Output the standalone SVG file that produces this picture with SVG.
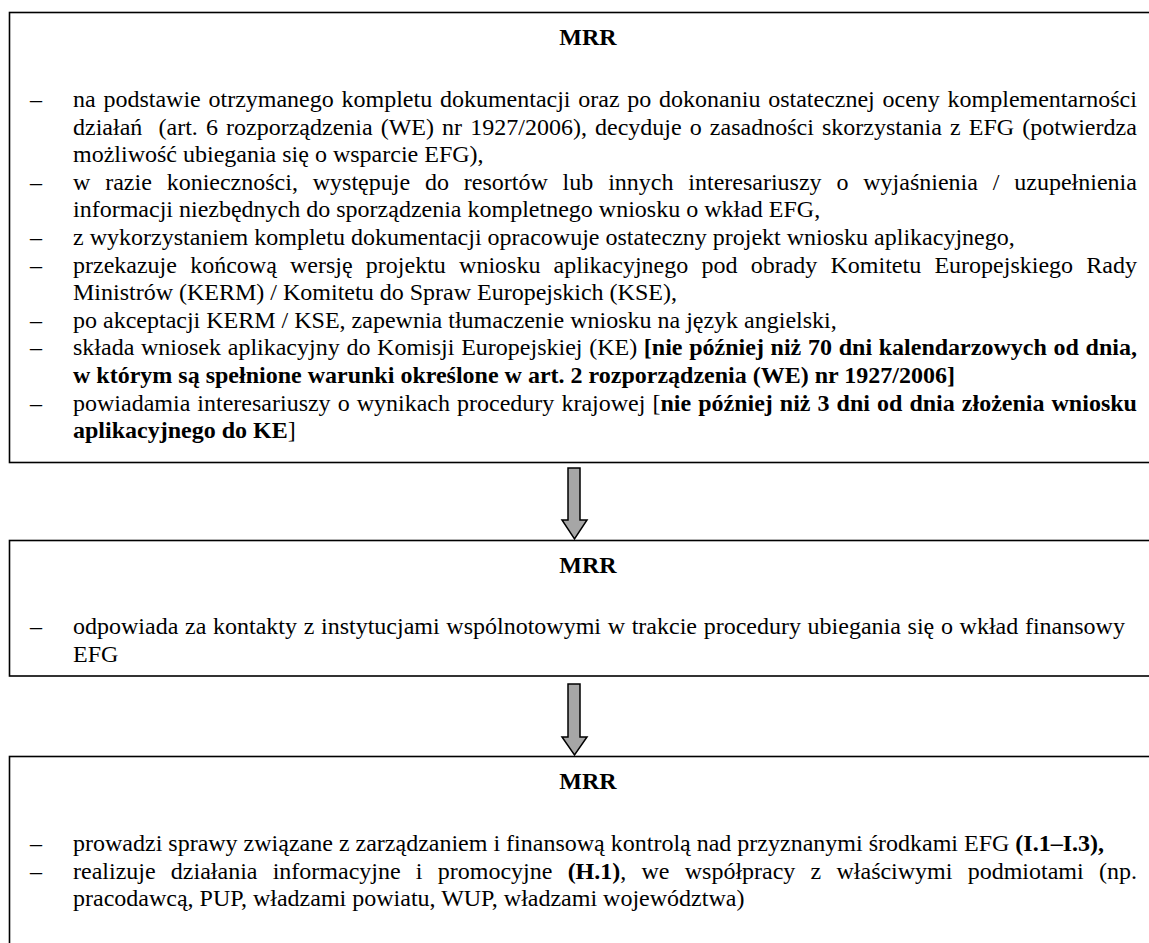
<svg xmlns="http://www.w3.org/2000/svg" width="1149" height="943" viewBox="0 0 1149 943">
<style>
text{font-family:"Liberation Serif","Times New Roman",serif;font-size:24px;fill:#000}
.b{font-weight:bold}
.h{font-weight:bold;text-anchor:middle}
.box{fill:#fff;stroke:#000;stroke-width:1.6}
.arr{fill:#a6a6a6;stroke:#000;stroke-width:1.5;stroke-linejoin:miter}
</style>
<rect width="1149" height="943" fill="#fff"/>
<g id="box1">
<rect class="box" x="9.5" y="12.5" width="1160" height="450"/>
<text class="h" x="588" y="45">MRR</text>
<text x="30" y="107">–</text>
<text x="73" y="107" style="word-spacing:1.75px">na podstawie otrzymanego kompletu dokumentacji oraz po dokonaniu ostatecznej oceny komplementarności</text>
<text x="73" y="134.6" xml:space="preserve" style="word-spacing:2.11px">działań  (art. 6 rozporządzenia (WE) nr 1927/2006), decyduje o zasadności skorzystania z EFG (potwierdza</text>
<text x="73" y="162.2">możliwość ubiegania się o wsparcie EFG),</text>
<text x="30" y="189.8">–</text>
<text x="73" y="189.8" style="word-spacing:8.85px">w razie konieczności, występuje do resortów lub innych interesariuszy o wyjaśnienia / uzupełnienia</text>
<text x="73" y="217.4">informacji niezbędnych do sporządzenia kompletnego wniosku o wkład EFG,</text>
<text x="30" y="245">–</text>
<text x="73" y="245">z wykorzystaniem kompletu dokumentacji opracowuje ostateczny projekt wniosku aplikacyjnego,</text>
<text x="30" y="272.6">–</text>
<text x="73" y="272.6" style="word-spacing:7.22px">przekazuje końcową wersję projektu wniosku aplikacyjnego pod obrady Komitetu Europejskiego Rady</text>
<text x="73" y="300.2">Ministrów (KERM) / Komitetu do Spraw Europejskich (KSE),</text>
<text x="30" y="327.8">–</text>
<text x="73" y="327.8">po akceptacji KERM / KSE, zapewnia tłumaczenie wniosku na język angielski,</text>
<text x="30" y="355.4">–</text>
<text x="73" y="355.4" style="word-spacing:0.71px">składa wniosek aplikacyjny do Komisji Europejskiej (KE) <tspan class="b">[nie później niż 70 dni kalendarzowych od dnia,</tspan></text>
<text x="73" y="383" class="b">w którym są spełnione warunki określone w art. 2 rozporządzenia (WE) nr 1927/2006]</text>
<text x="30" y="410.6">–</text>
<text x="73" y="410.6" style="word-spacing:1.05px">powiadamia interesariuszy o wynikach procedury krajowej [<tspan class="b">nie później niż 3 dni od dnia złożenia wniosku</tspan></text>
<text x="73" y="438.2"><tspan class="b">aplikacyjnego do KE</tspan>]</text>
</g>
<g id="box2">
<rect class="box" x="9.5" y="540.5" width="1160" height="135.5"/>
<text class="h" x="588" y="573">MRR</text>
<text x="30" y="634">–</text>
<text x="73" y="634" style="word-spacing:0.68px">odpowiada za kontakty z instytucjami wspólnotowymi w trakcie procedury ubiegania się o wkład finansowy</text>
<text x="73" y="661.6">EFG</text>
</g>
<g id="box3">
<rect class="box" x="9.5" y="756.5" width="1160" height="200"/>
<text class="h" x="588" y="789">MRR</text>
<text x="30" y="851">–</text>
<text x="73" y="851">prowadzi sprawy związane z zarządzaniem i finansową kontrolą nad przyznanymi środkami EFG <tspan class="b">(I.1–I.3),</tspan></text>
<text x="30" y="878.6">–</text>
<text x="73" y="878.6" style="word-spacing:9.23px">realizuje działania informacyjne i promocyjne <tspan class="b">(H.1)</tspan>, we współpracy z właściwymi podmiotami (np.</text>
<text x="73" y="906.2">pracodawcą, PUP, władzami powiatu, WUP, władzami województwa)</text>
</g>
<g id="connectors">
<polygon class="arr" points="568,468 580,468 580,520 587,520 574.5,539 562,520 568,520"/>
<polygon class="arr" points="568,684 580,684 580,737 587,737 574.5,755 562,737 568,737"/>
</g>
</svg>
